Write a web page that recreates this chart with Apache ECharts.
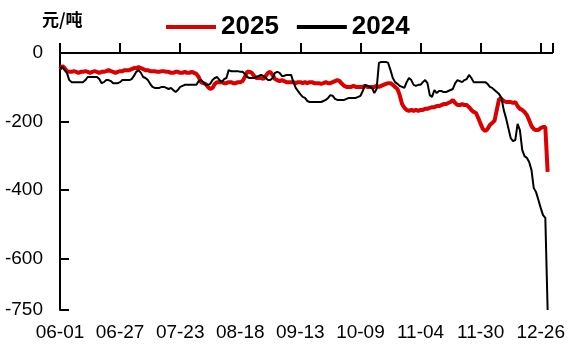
<!DOCTYPE html>
<html>
<head>
<meta charset="utf-8">
<script src="https://cdn.jsdelivr.net/npm/echarts@6/dist/echarts.min.js"></script>
<style>
html,body{margin:0;padding:0;background:#fff;}
#c{width:568px;height:347px;}
</style>
</head>
<body>
<div id="c"></div>
<script>
// categories: calendar days 06-01 .. 12-31
var startDate = [6, 1];
var endDate = [12, 31];
var categories = (function () {
  var out = [];
  var d = new Date(2025, startDate[0] - 1, startDate[1]);
  var e = new Date(2025, endDate[0] - 1, endDate[1]);
  while (d <= e) {
    var m = d.getMonth() + 1, day = d.getDate();
    out.push((m < 10 ? '0' : '') + m + '-' + (day < 10 ? '0' : '') + day);
    d.setDate(d.getDate() + 1);
  }
  return out;
})();

var seriesNames = ['2025', '2024'];

var values2025 = [
  -47,-38,-44,-53,-55,-55,-53,-55,-58,-55,
  -55,-53,-55,-58,-55,-53,-55,-58,-55,-55,
  -53,-50,-53,-55,-58,-55,-53,-53,-50,-50,
  -50,-47,-44,-44,-41,-44,-47,-50,-50,-53,
  -53,-53,-55,-55,-53,-53,-55,-55,-58,-58,
  -55,-55,-58,-58,-55,-58,-58,-55,-58,-61,
  -70,-85,-88,-90,-99,-105,-102,-90,-85,-85,
  -85,-88,-88,-85,-85,-88,-88,-85,-85,-82,
  -70,-55,-55,-58,-67,-73,-73,-73,-76,-67,
  -58,-55,-64,-76,-79,-82,-79,-82,-85,-85,
  -85,-85,-88,-85,-85,-88,-85,-88,-85,-85,
  -88,-88,-88,-90,-88,-85,-88,-88,-85,-82,
  -79,-82,-90,-96,-99,-99,-99,-96,-99,-99,
  -99,-99,-96,-99,-99,-99,-99,-96,-99,-96,
  -93,-90,-88,-88,-93,-99,-105,-123,-149,-160,
  -166,-169,-166,-169,-166,-169,-166,-166,-163,-163,
  -160,-158,-158,-155,-155,-152,-149,-149,-146,-143,
  -137,-146,-152,-152,-149,-152,-152,-158,-166,-172,
  -175,-190,-207,-222,-228,-222,-210,-204,-198,-166,
  -134,-134,-140,-143,-143,-143,-146,-143,-155,-163,
  -166,-172,-181,-196,-213,-222,-225,-225,-219,-216,
  -216,-347
];

var values2024 = [
  -44,-41,-50,-58,-79,-85,-85,-85,-85,-85,
  -85,-79,-70,-70,-70,-70,-70,-76,-88,-85,
  -79,-79,-82,-88,-88,-88,-85,-79,-79,-79,
  -79,-76,-67,-55,-50,-58,-70,-73,-79,-90,
  -99,-102,-102,-102,-99,-99,-102,-105,-102,-108,
  -114,-108,-99,-96,-93,-93,-93,-93,-93,-93,
  -82,-79,-85,-93,-93,-90,-79,-73,-70,-79,
  -85,-76,-73,-50,-53,-53,-53,-53,-55,-55,
  -61,-70,-73,-73,-73,-70,-67,-64,-67,-73,
  -79,-79,-73,-58,-55,-58,-67,-67,-64,-64,
  -64,-85,-102,-111,-120,-128,-131,-140,-143,-143,
  -143,-143,-143,-143,-140,-137,-131,-123,-125,-134,
  -137,-137,-137,-137,-134,-131,-131,-131,-131,-128,
  -125,-111,-93,-96,-99,-102,-117,-105,-29,-26,
  -26,-26,-29,-50,-73,-85,-90,-96,-99,-102,
  -85,-73,-79,-93,-96,-93,-93,-85,-79,-88,
  -123,-128,-108,-117,-111,-111,-114,-114,-111,-108,
  -105,-88,-79,-82,-85,-79,-76,-64,-73,-85,
  -85,-85,-85,-85,-85,-90,-99,-102,-108,-114,
  -120,-131,-166,-190,-219,-248,-257,-254,-207,-225,
  -283,-301,-306,-318,-341,-394,-406,-429,-452,-473,
  -481,-750
];

var yTickValues = [0, -200, -400, -600, -750];
var xLabelStep = 26;

var chart = echarts.init(document.getElementById('c'), null, {renderer: 'canvas'});
var lastIdx = categories.length - 1;
var numFont = "'Liberation Sans Narrow', 'Liberation Sans', Arial, sans-serif";

chart.setOption({
  animation: false,
  backgroundColor: '#fff',
  title: {
    text: '元/吨',
    left: 37,
    top: 6,
    textStyle: {fontFamily: "'Noto Sans CJK SC', sans-serif", fontSize: 17, fontWeight: 'bold', color: '#000'}
  },
  legend: {
    data: seriesNames,
    left: 161,
    top: 9,
    icon: 'rect',
    itemWidth: 50,
    itemHeight: 4,
    itemGap: 18,
    textStyle: {fontFamily: numFont, fontSize: 26, fontWeight: 'bold', color: '#000'}
  },
  grid: {left: 60, right: 8, top: 53, bottom: 37, containLabel: false},
  xAxis: [
    {
      type: 'category',
      data: categories,
      boundaryGap: false,
      position: 'bottom',
      axisLine: {show: false},
      axisTick: {show: false},
      splitLine: {show: false},
      axisLabel: {
        interval: function (i) { return i % xLabelStep === 0; },
        margin: 13,
        fontFamily: numFont,
        fontSize: 19,
        color: '#000'
      }
    },
    {
      type: 'category',
      data: categories,
      boundaryGap: false,
      position: 'top',
      axisLine: {show: true, onZero: false, lineStyle: {color: '#000', width: 2}},
      axisTick: {
        show: true,
        inside: false,
        length: 10,
        interval: function (i) { return i % xLabelStep === 0 || i === lastIdx; },
        lineStyle: {color: '#000', width: 2}
      },
      axisLabel: {show: false},
      splitLine: {show: false}
    }
  ],
  yAxis: {
    type: 'value',
    min: -750,
    max: 0,
    axisLine: {show: true, lineStyle: {color: '#000', width: 2}},
    axisTick: {show: true, inside: true, length: 9, customValues: yTickValues, lineStyle: {color: '#000', width: 2}},
    axisLabel: {customValues: yTickValues, margin: 17, fontFamily: numFont, fontSize: 19, color: '#000'},
    splitLine: {show: false}
  },
  series: [
    {
      name: seriesNames[0],
      type: 'line',
      data: values2025,
      xAxisIndex: 0,
      showSymbol: false,
      symbol: 'none',
      lineStyle: {color: '#dc0000', width: 4},
      itemStyle: {color: '#dc0000'}
    },
    {
      name: seriesNames[1],
      type: 'line',
      data: values2024,
      xAxisIndex: 0,
      showSymbol: false,
      symbol: 'none',
      lineStyle: {color: '#000', width: 2},
      itemStyle: {color: '#000'}
    }
  ]
});
</script>
</body>
</html>
